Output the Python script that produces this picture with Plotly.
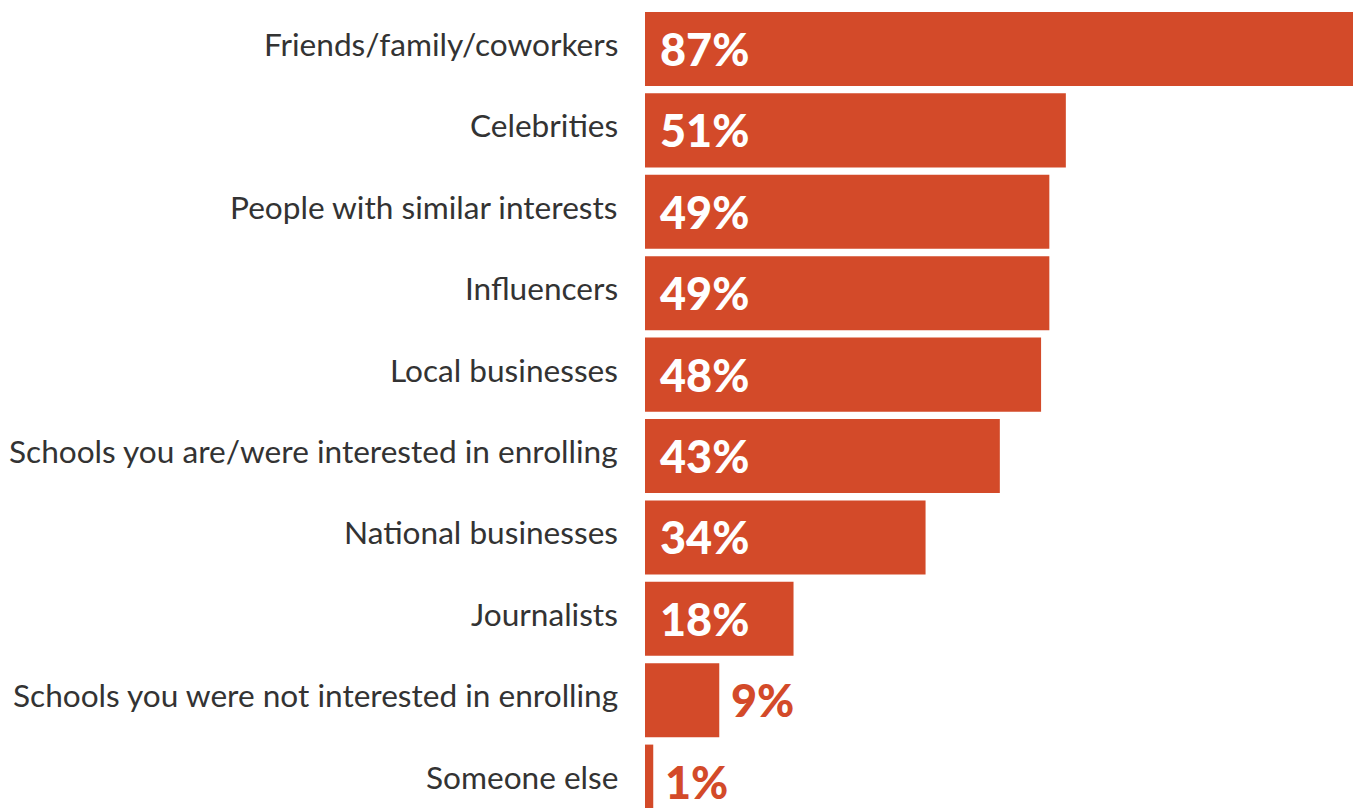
import plotly.graph_objects as go

categories = [
    "Friends/family/coworkers",
    "Celebrities",
    "People with similar interests",
    "Influencers",
    "Local businesses",
    "Schools you are/were interested in enrolling",
    "National businesses",
    "Journalists",
    "Schools you were not interested in enrolling",
    "Someone else",
]
values = [87, 51, 49, 49, 48, 43, 34, 18, 9, 1]
value_labels = ["87%", "51%", "49%", "49%", "48%", "43%", "34%", "18%", "9%", "1%"]

BAR_COLOR = "#D34A29"
LABEL_COLOR = "#333333"
INSIDE_MIN = 15  # bars narrower than this get their label outside

fig = go.Figure(
    go.Bar(
        x=values,
        y=categories,
        orientation="h",
        marker=dict(color=BAR_COLOR, line=dict(width=0)),
        hoverinfo="skip",
    )
)

for cat, v, lab in zip(categories, values, value_labels):
    # category name to the left of the bar
    fig.add_annotation(
        x=0,
        y=cat,
        text=cat,
        showarrow=False,
        xanchor="right",
        yanchor="middle",
        xshift=-25,
        yshift=5,
        font=dict(family="Lato", size=31.6, color=LABEL_COLOR),
    )
    # value label: inside long bars, just past the end of short ones
    inside = v >= INSIDE_MIN
    fig.add_annotation(
        x=0 if inside else v,
        y=cat,
        text=lab,
        showarrow=False,
        xanchor="left",
        yanchor="middle",
        xshift=13 if inside else 10,
        font=dict(
            family="Lato",
            size=45,
            weight=900,
            color="white" if inside else BAR_COLOR,
        ),
    )

fig.update_layout(
    width=1353,
    height=808,
    margin=dict(l=645, r=0, t=0, b=0),
    paper_bgcolor="white",
    plot_bgcolor="white",
    bargap=0.09,
    showlegend=False,
    xaxis=dict(
        range=[0, 85.8],
        visible=False,
        showgrid=False,
        zeroline=False,
    ),
    yaxis=dict(
        type="category",
        categoryorder="array",
        categoryarray=categories,
        range=[9.324, -0.602],
        showgrid=False,
        zeroline=False,
        showline=False,
        showticklabels=False,
        ticks="",
    ),
)

fig.write_html("out.html")
